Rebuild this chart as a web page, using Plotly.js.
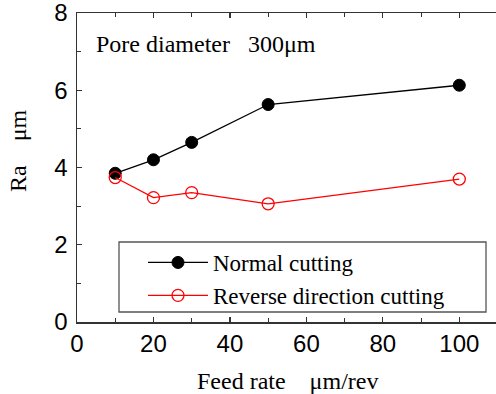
<!DOCTYPE html>
<html>
<head>
<meta charset="utf-8">
<script src="https://cdn.plot.ly/plotly-3.0.1.min.js"></script>
<style>html,body{margin:0;padding:0;background:#fff;}#chart{width:496px;height:394px;}</style>
</head>
<body>
<div id="chart"></div>
<script>
// Data
const feedRate = [10, 20, 30, 50, 100];
const normalCutting = [3.85, 4.20, 4.65, 5.63, 6.13];
const reverseCutting = [3.74, 3.22, 3.35, 3.06, 3.70];
const seriesNames = ["Normal cutting", "Reverse direction cutting"];
const xTickVals = [0, 20, 40, 60, 80, 100];
const yTickVals = [0, 2, 4, 6, 8];

const serif = "Liberation Serif, Times New Roman, serif";
const sans = "Liberation Sans, Arial, sans-serif";

const L = 77, R = 0, T = 13, B = 72;
const W = 496, H = 394;
const pw = W - L - R, ph = H - T - B;
const px = v => (v - L) / pw;
const py = v => (H - B - v) / ph;

const traces = [
  {x: feedRate, y: normalCutting, name: seriesNames[0], mode: "lines+markers", type: "scatter",
   line: {color: "#000000", width: 1.3},
   marker: {symbol: "circle", size: 12, color: "#000000", line: {color: "#000000", width: 1}}},
  {x: feedRate, y: reverseCutting, name: seriesNames[1], mode: "lines+markers", type: "scatter",
   line: {color: "#ff0000", width: 1.3},
   marker: {symbol: "circle-open", size: 12, color: "#ff0000", line: {color: "#ff0000", width: 1.3}}}
];

const layout = {
  width: W, height: H,
  margin: {l: L, r: R, t: T, b: B, pad: 0},
  paper_bgcolor: "#ffffff", plot_bgcolor: "#ffffff",
  showlegend: true,
  legend: {
    x: px(143), y: py(241), xanchor: "left", yanchor: "top",
    bgcolor: "rgba(0,0,0,0)", borderwidth: 0,
    font: {family: serif, size: 23, color: "#000"},
    itemwidth: 60, tracegroupgap: 0
  },
  xaxis: {
    range: [0, 109.6], tickvals: xTickVals, ticktext: xTickVals.map(String),
    ticks: "inside", ticklen: 5, tickwidth: 1.2, tickcolor: "#333",
    minor: {dtick: 10, ticks: "inside", ticklen: 4, tickwidth: 1, tickcolor: "#333"},
    showline: true, linecolor: "#333", linewidth: 1.5, mirror: "ticks",
    showgrid: false, zeroline: false,
    tickfont: {family: sans, size: 24, color: "#000"},
    ticklabelstandoff: 0, ticklabeloverflow: "allow"
  },
  yaxis: {
    range: [0, 8], tickvals: yTickVals, ticktext: yTickVals.map(String),
    ticks: "inside", ticklen: 5, tickwidth: 1.2, tickcolor: "#333",
    minor: {dtick: 1, ticks: "inside", ticklen: 4, tickwidth: 1, tickcolor: "#333"},
    showline: true, linecolor: "#333", linewidth: 1.5, mirror: false,
    showgrid: false, zeroline: false,
    tickfont: {family: sans, size: 24, color: "#000"},
    ticklabelstandoff: 3, ticklabeloverflow: "allow"
  },
  shapes: [
    {type: "rect", xref: "paper", yref: "paper", x0: px(119), x1: px(486), y0: py(312), y1: py(242),
     line: {color: "#555", width: 1.3}, fillcolor: "rgba(0,0,0,0)", layer: "below"}
  ],
  annotations: [
    {xref: "paper", yref: "paper", x: px(94), y: py(44), xanchor: "left", yanchor: "middle",
     text: "Pore diameter\u00a0\u00a0\u00a0300\u03bcm", showarrow: false,
     font: {family: serif, size: 24, color: "#000"}},
    {xref: "paper", yref: "paper", x: px(287), y: py(381), xanchor: "center", yanchor: "middle",
     text: "Feed rate\u00a0\u00a0\u00a0\u00a0\u03bcm/rev", showarrow: false,
     font: {family: serif, size: 24, color: "#000"}},
    {xref: "paper", yref: "paper", x: px(18), y: py(150), xanchor: "center", yanchor: "middle",
     text: "Ra\u00a0\u00a0\u00a0\u00a0\u03bcm", showarrow: false, textangle: -90,
     font: {family: serif, size: 24, color: "#000"}}
  ]
};

Plotly.newPlot("chart", traces, layout, {displayModeBar: false, staticPlot: true});
</script>
</body>
</html>
